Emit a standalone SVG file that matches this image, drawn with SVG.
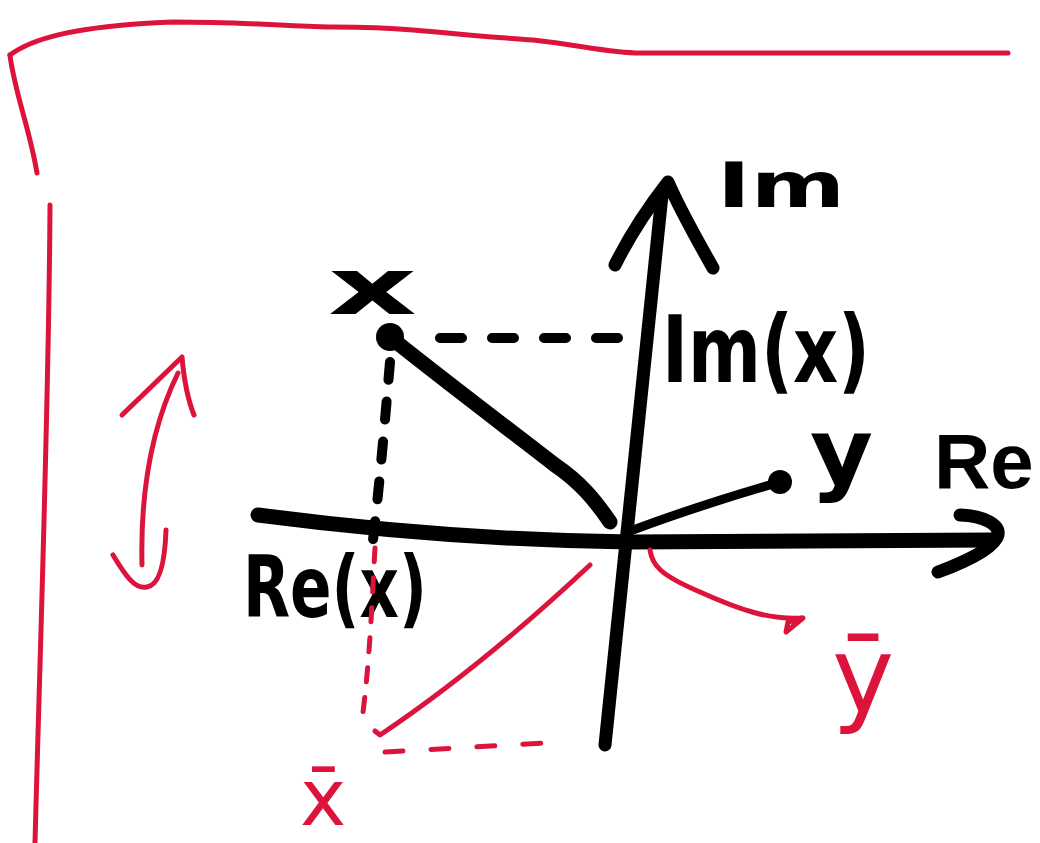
<svg xmlns="http://www.w3.org/2000/svg" width="1040" height="843" viewBox="0 0 1040 843">
<style>
.r{fill:none;stroke:#dc143c;stroke-width:5;stroke-linecap:round;stroke-linejoin:round}
.b{fill:none;stroke:#000;stroke-linecap:round;stroke-linejoin:round}
.t{font-family:"DejaVu Sans","Liberation Sans",sans-serif;font-weight:bold;fill:#000}
.tr{font-family:"DejaVu Sans","Liberation Sans",sans-serif;fill:#dc143c}
</style>
<rect width="1040" height="843" fill="#fff"/>
<g id="frame">
<path class="r" d="M10,55 C30,40 70,26 173,22 C250,22 300,27 333,27 C370,27 390,28 413,30 C460,34 500,38 533,40 C580,45 610,53 640,53 L1008,53"/>
<path class="r" d="M10,55 C14,90 30,130 37,173"/>
<path class="r" d="M50,205 C49,400 40,650 35,843"/>
</g>
<g id="double-arrow">
<path class="r" d="M178,373 C155,420 140,480 142,565"/>
<path class="r" d="M122,415 L182,357 C184,380 188,400 194,415"/>
<path class="r" d="M113,555 C125,575 135,590 147,587 C160,585 165,560 166,530"/>
</g>
<g id="axes">
<path class="b" stroke-width="15" d="M258,515 Q450,540 630,542 L992,540"/>
<path class="b" stroke-width="13" d="M960,515 C985,516 1000,525 998,535 C995,548 965,562 938,572"/>
<path class="b" stroke-width="13" d="M605,745 C615,640 640,420 662,195"/>
<path class="b" stroke-width="13" d="M615,265 C630,235 650,205 668,182 C680,210 700,245 713,268"/>
<text class="t" x="717" y="207" font-size="62" textLength="128" lengthAdjust="spacingAndGlyphs">Im</text>
<text x="934" y="488" font-family="'Liberation Sans',Arial,sans-serif" font-weight="bold" font-size="78" fill="#000">Re</text>
</g>
<g id="point-x">
<path class="b" stroke-width="15" d="M390,337 C450,385 510,430 555,465 C580,482 595,500 610,522"/>
<circle cx="390" cy="337" r="14" fill="#000"/>
<path class="b" stroke-width="10" stroke-dasharray="22 30" d="M440,338 L628,338"/>
<path class="b" stroke-width="10" stroke-dasharray="18 22" d="M390,362 C385,420 380,480 373,540"/>
<text class="t" x="328" y="314" font-size="78" textLength="89" lengthAdjust="spacingAndGlyphs">x</text>
<text class="t" x="662" y="382" font-size="92" textLength="208" lengthAdjust="spacingAndGlyphs">Im(x)</text>
<text class="t" x="243" y="617" font-size="85" textLength="184" lengthAdjust="spacingAndGlyphs">Re(x)</text>
</g>
<g id="point-y">
<path class="b" stroke-width="9" d="M633,530 Q700,505 780,482"/>
<circle cx="780" cy="482" r="12" fill="#000"/>
<text class="t" x="810" y="483" font-size="90" textLength="63" lengthAdjust="spacingAndGlyphs">y</text>
</g>
<g id="conjugates">
<path class="r" d="M590,565 Q480,668 380,735 L375,731"/>
<path class="r" stroke-dasharray="14 16" d="M375,548 C372,600 370,660 362,720"/>
<path class="r" stroke-dasharray="18 28" d="M385,752 L562,742"/>
<text class="tr" x="300" y="825" font-size="78">x̄</text>
<path class="r" d="M650,550 C652,565 660,575 700,592 C740,610 770,620 802,618"/>
<path class="r" fill="#dc143c" d="M788,622 L803,618 L786,632 Z"/>
<text class="tr" x="832" y="712" font-size="105">ȳ</text>
</g>
</svg>
